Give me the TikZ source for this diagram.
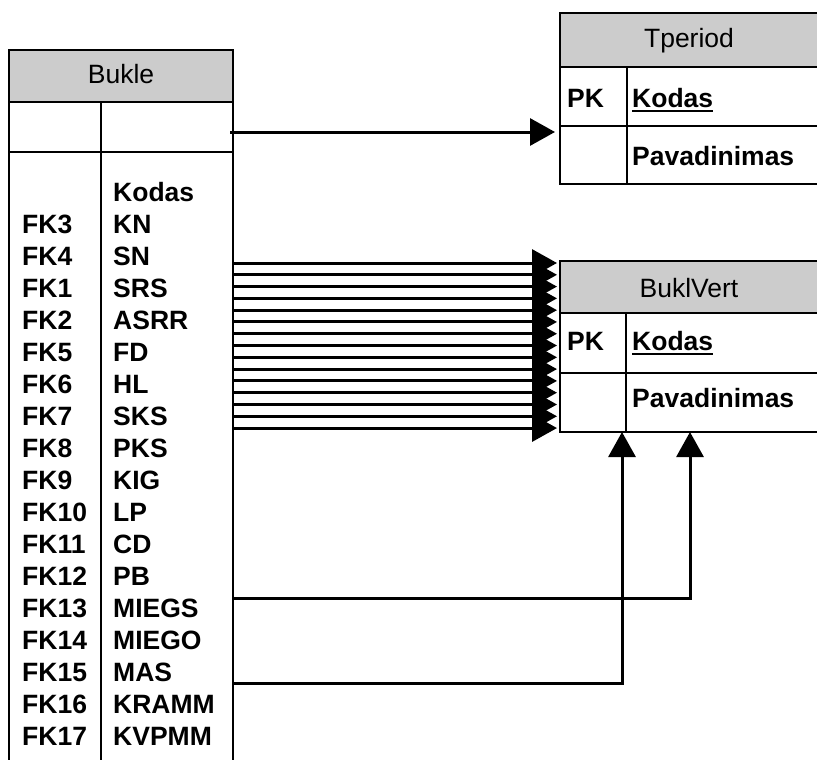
\documentclass[tikz,border=0pt]{standalone}
\usepackage{fontspec}
\setmainfont{Liberation Sans}
\usetikzlibrary{arrows.meta}

\tikzset{
	tbl/.style={draw, line width=2pt},
	hdr/.style={anchor=base, inner sep=0pt, font=\fontsize{26.5}{30}\selectfont},
	fld/.style={anchor=base west, inner sep=0pt, font=\fontsize{26.5}{30}\selectfont\bfseries},
	link/.style={line width=3pt, -{Triangle[length=25pt,width=27pt]}},
}

\begin{document}
\begin{tikzpicture}[x=1pt, y=-1pt]
		\useasboundingbox (0,0) rectangle (817,760);
		\clip (0,0) rectangle (817,760);

		% Bukle
		\draw[tbl, fill=gray!40] (9,50) rectangle (233,102);
		\draw[tbl] (9,102) rectangle (233,780);
		\draw[tbl] (9,152) -- (233,152);
		\draw[tbl] (101,102) -- (101,780);
		\node[hdr] (bukle) at (121,84) {Bukle};
		\node[fld] (bkkodas) at (113,201) {Kodas};
		\foreach \fk/\fl [count=\i from 0] in {FK3/KN, FK4/SN, FK1/SRS, FK2/ASRR, FK5/FD, FK6/HL, FK7/SKS, FK8/PKS, FK9/KIG, FK10/LP, FK11/CD, FK12/PB, FK13/MIEGS, FK14/MIEGO, FK15/MAS, FK16/KRAMM, FK17/KVPMM} {
			\node[fld] (fk\i) at (22,233+\i*32) {\fk};
			\node[fld] (fl\i) at (113,233+\i*32) {\fl};
		}

		% Tperiod
		\draw[tbl, fill=gray!40] (560,13) rectangle (830,67);
		\draw[tbl] (560,67) rectangle (830,184);
		\draw[tbl] (560,126) -- (830,126);
		\draw[tbl] (627,67) -- (627,184);
		\node[hdr] (tperiod) at (689,48) {Tperiod};
		\node[fld] (tppk) at (567,107) {PK};
		\node[fld] (tpkodas) at (632,107) {Kodas};
		\draw[line width=2pt] ([yshift=-4pt]tpkodas.base west) -- ([yshift=-4pt]tpkodas.base east);
		\node[fld] (tppav) at (632,165) {Pavadinimas};

		% BuklVert
		\draw[tbl, fill=gray!40] (560,261) rectangle (830,313);
		\draw[tbl] (560,313) rectangle (830,432);
		\draw[tbl] (560,373) -- (830,373);
		\draw[tbl] (626,313) -- (626,432);
		\node[hdr] (buklvert) at (689,297) {BuklVert};
		\node[fld] (bvpk) at (567,350) {PK};
		\node[fld] (bvkodas) at (632,350) {Kodas};
		\draw[line width=2pt] ([yshift=-4pt]bvkodas.base west) -- ([yshift=-4pt]bvkodas.base east);
		\node[fld] (bvpav) at (632,407) {Pavadinimas};

		% links
		\coordinate (bkout) at (230,132);
		\coordinate (tpin) at (555,132);
		\draw[link] (bkout) -- (tpin);
		\foreach \k in {0,...,14} {
			\coordinate (bo\k) at (233,263+\k*11.79);
			\coordinate (bi\k) at (557,263+\k*11.79);
			\draw[link] (bo\k) -- (bi\k);
		}
		\coordinate (miegsout) at (233,598);
		\coordinate (bvin1) at (690,432);
		\draw[link] (miegsout) -| (bvin1);
		\coordinate (masout) at (233,683);
		\coordinate (bvin2) at (622,432);
		\draw[link] (masout) -| (bvin2);

	\end{tikzpicture}
\end{document}
